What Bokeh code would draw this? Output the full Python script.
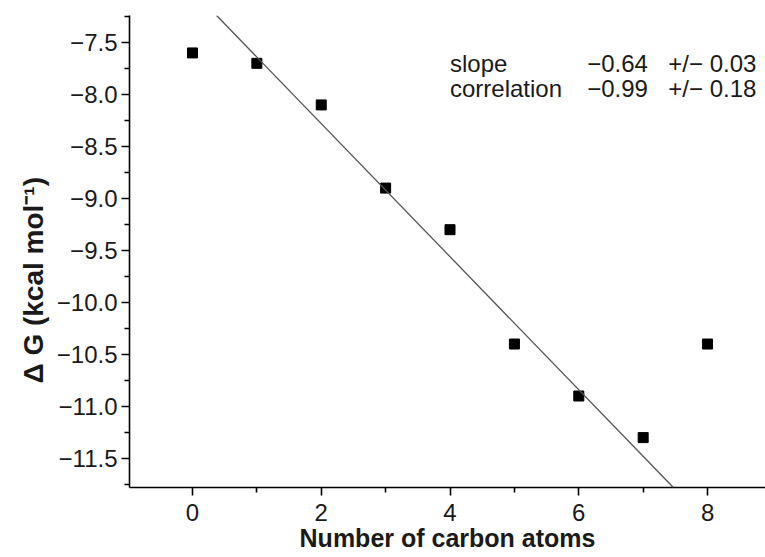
from bokeh.plotting import figure
from bokeh.models import Range1d, FixedTicker, CustomJSTickFormatter, Slope, Label, Title
from bokeh.embed import file_html
from bokeh.resources import INLINE

# data
carbon_atoms = [0, 1, 2, 3, 4, 5, 6, 7, 8]
delta_g = [-7.6, -7.7, -8.1, -8.9, -9.3, -10.4, -10.9, -11.3, -10.4]

# fit line
fit_slope = -0.64
fit_intercept = -7.0

# statistics box
stat_names = ["slope", "correlation"]
stat_values = [-0.64, -0.99]
stat_errors = [0.03, 0.18]

x_major = [0, 2, 4, 6, 8]
x_minor = [-1, 1, 3, 5, 7, 9]
y_major = [-11.5, -11.0, -10.5, -10.0, -9.5, -9.0, -8.5, -8.0, -7.5]
y_minor = [-11.75, -11.25, -10.75, -10.25, -9.75, -9.25, -8.75, -8.25, -7.75, -7.25]

x_title = "Number of carbon atoms"
y_title = "Δ G (kcal mol⁻¹)"

FONT = "Liberation Sans"
TXT = "#1a1a1a"

p = figure(width=765, height=557, output_backend="svg", toolbar_location=None,
           x_range=Range1d(-0.978, 8.90), y_range=Range1d(-11.78, -7.24),
           min_border_left=129, min_border_right=0, min_border_top=15, min_border_bottom=70)
p.outline_line_color = None
p.xgrid.visible = False
p.ygrid.visible = False
p.background_fill_color = "white"
p.border_fill_color = "white"

p.add_layout(Slope(gradient=fit_slope, y_intercept=fit_intercept,
                   line_color="#555555", line_width=1.3))

p.scatter(carbon_atoms, delta_g, marker="square", size=10, color="black")

for ax in (p.xaxis[0], p.yaxis[0]):
    ax.axis_line_color = "black"
    ax.axis_line_width = 1.6
    ax.major_tick_line_color = "black"
    ax.major_tick_line_width = 1.6
    ax.minor_tick_line_color = "black"
    ax.minor_tick_line_width = 1.6
    ax.major_tick_in = 0
    ax.major_tick_out = 8
    ax.minor_tick_in = 0
    ax.minor_tick_out = 5
    ax.major_label_text_font = FONT
    ax.major_label_text_font_size = "24px"
    ax.major_label_text_color = TXT
    ax.axis_label_text_font = FONT
    ax.axis_label_text_font_size = "25px"
    ax.axis_label_text_font_style = "bold"
    ax.axis_label_text_color = TXT

p.xaxis.ticker = FixedTicker(ticks=x_major, minor_ticks=x_minor)
p.yaxis.ticker = FixedTicker(ticks=y_major, minor_ticks=y_minor)
p.xaxis.formatter = CustomJSTickFormatter(code="return (tick < 0 ? '\\u2212' : '') + Math.abs(tick).toFixed(0);")
p.yaxis.formatter = CustomJSTickFormatter(code="return (tick < 0 ? '\\u2212' : '') + Math.abs(tick).toFixed(1);")
p.xaxis.axis_label = x_title
p.xaxis.major_label_standoff = 8
p.xaxis.axis_label_standoff = 0
p.yaxis.major_label_standoff = 4

# y title as a side title, starting some way above the frame bottom as in the original
p.add_layout(Title(text=y_title, align="left", offset=104, standoff=10,
                   text_font=FONT, text_font_size="28px", text_font_style="bold",
                   text_color=TXT), "left")

def fmt(v):
    s = f"{abs(v):.2f}"
    return ("\u2212" + s) if v < 0 else s

row_y = [-7.70, -7.94]
for name, val, err, yy in zip(stat_names, stat_values, stat_errors, row_y):
    for xx, t in ((4.0, name), (6.13, fmt(val)), (7.39, "+/\u2212 " + f"{err:.2f}")):
        p.add_layout(Label(x=xx, y=yy, text=t, text_font=FONT, text_font_size="24px",
                           text_color=TXT, text_baseline="alphabetic", text_align="left"))

open("out.html", "w").write(file_html(p, INLINE))
